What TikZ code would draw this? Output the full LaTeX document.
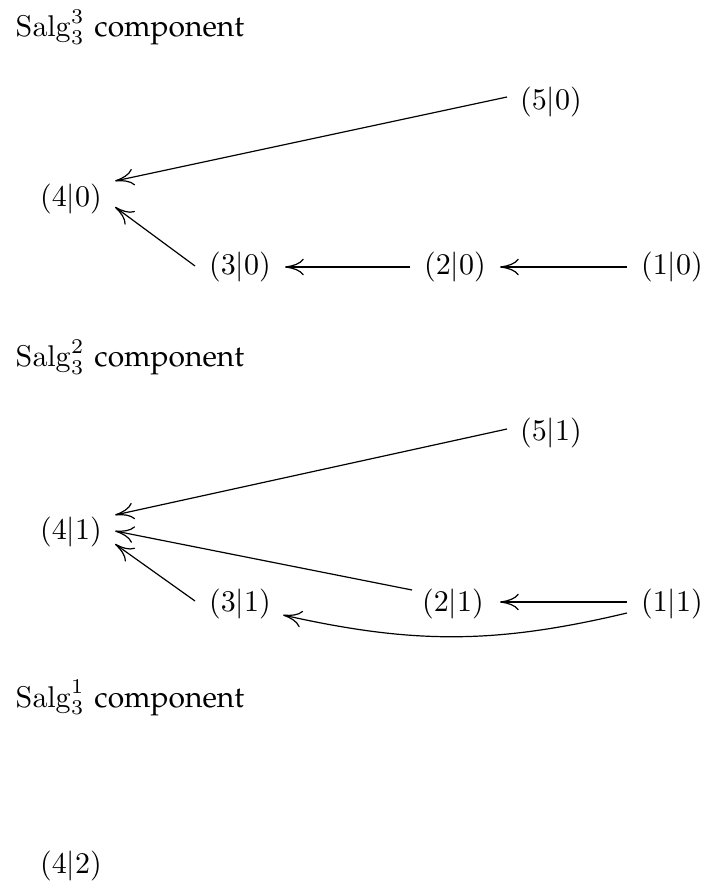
\documentclass[tikz,border=0pt]{standalone}
\usetikzlibrary{arrows.meta,calc}
\newcommand\compword{{\fontencoding{T1}\fontfamily{ppl}\selectfont component}}
\begin{document}
\begin{tikzpicture}[x=0.33333pt,y=-0.33333pt,
  obj/.style={inner sep=0pt,outer sep=0pt},
  ttl/.style={anchor=base west,inner sep=0pt},
  arr/.style={line width=0.4pt,-{Computer Modern Rightarrow[length=6.3pt,width=5.6pt]}}]
\useasboundingbox (0,0) rectangle (709,890);
% titles
\node[ttl] (t3) at (15,37) {$\mathrm{Salg}_3^3$ \compword};
\node[ttl] (t2) at (15,367) {$\mathrm{Salg}_3^2$ \compword};
\node[ttl] (t1) at (15,707) {$\mathrm{Salg}_3^1$ \compword};
% Salg^3 component
\node[obj] (a5) at (551,102) {$(5|0)$};
\node[obj] (a4) at (71,199) {$(4|0)$};
\node[obj] (a3) at (240,267) {$(3|0)$};
\node[obj] (a2) at (455,267) {$(2|0)$};
\node[obj] (a1) at (672,267) {$(1|0)$};
\draw[arr] ($(a5)+(-44,-5)$) -- ($(a4)+(44,-18)$);
\draw[arr] ($(a3)+(-45,-1)$) -- ($(a4)+(44,8)$);
\draw[arr] ($(a2)+(-45,0)$) -- ($(a3)+(45,0)$);
\draw[arr] ($(a1)+(-45,0)$) -- ($(a2)+(45,0)$);
% Salg^2 component
\node[obj] (b5) at (551,433) {$(5|1)$};
\node[obj] (b4) at (71,532) {$(4|1)$};
\node[obj] (b3) at (240,604) {$(3|1)$};
\node[obj] (b2) at (453,604) {$(2|1)$};
\node[obj] (b1) at (672,604) {$(1|1)$};
\draw[arr] ($(b5)+(-44,-4)$) -- ($(b4)+(44,-17)$);
\draw[arr] ($(b2)+(-41,-14)$) -- ($(b4)+(44,-1)$);
\draw[arr] ($(b3)+(-45,-3)$) -- ($(b4)+(44,12)$);
\draw[arr] ($(b1)+(-45,-2)$) -- ($(b2)+(47,-2)$);
\draw[arr] ($(b1)+(-45,9)$) to[bend left=13] ($(b3)+(43,11)$);
% Salg^1 component
\node[obj] (c4) at (71,866) {$(4|2)$};
\end{tikzpicture}
\end{document}
